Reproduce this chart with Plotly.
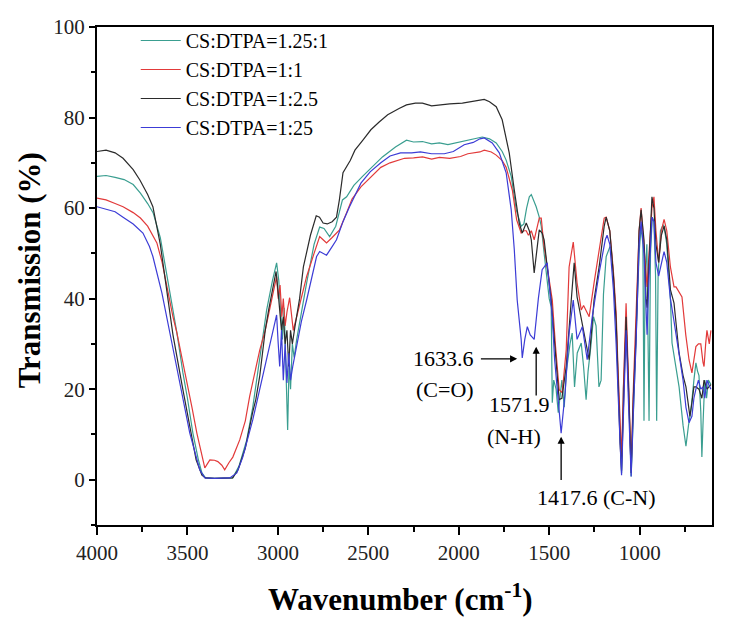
import plotly.graph_objects as go

# ---------------- data ----------------
teal_wn = [4000, 3950, 3900, 3850, 3800, 3760, 3720, 3690, 3650, 3614, 3580, 3558, 3525, 3500, 3470, 3440, 3420, 3400, 3350, 3300, 3250, 3215, 3172, 3139, 3100, 3062, 3030, 3007, 2995, 2985, 2975, 2965, 2955, 2946, 2938, 2930, 2920, 2910, 2896, 2870, 2841, 2800, 2769, 2745, 2714, 2680, 2643, 2620, 2580, 2532, 2480, 2422, 2350, 2289, 2250, 2201, 2150, 2107, 2060, 2013, 1960, 1903, 1870, 1830, 1793, 1760, 1738, 1710, 1682, 1655, 1640, 1625, 1610, 1599, 1585, 1572, 1555, 1544, 1528, 1517, 1500, 1489, 1483, 1475, 1462, 1450, 1440, 1430, 1417, 1405, 1385, 1373, 1360, 1345, 1323, 1310, 1296, 1285, 1270, 1255, 1241, 1225, 1213, 1200, 1185, 1165, 1158, 1145, 1130, 1120, 1108, 1100, 1090, 1080, 1072, 1060, 1047, 1035, 1020, 1003, 992, 982, 976, 970, 960, 948, 940, 930, 921, 912, 906, 898, 885, 870, 865, 850, 830, 821, 800, 782, 760, 744, 730, 716, 700, 689, 680, 672, 662, 656, 650, 640, 630, 620, 606]
teal_t = [67.0, 67.2, 66.8, 66.3, 65.2, 63.3, 61.0, 59.0, 53.5, 45.0, 37.0, 32.4, 23.6, 18.0, 10.3, 4.5, 1.5, 0.4, 0.3, 0.3, 0.4, 3.0, 8.8, 16.0, 26.5, 37.5, 44.0, 47.9, 44.0, 36.0, 31.0, 38.0, 22.0, 11.0, 26.0, 20.0, 30.0, 27.0, 31.0, 37.0, 43.5, 52.0, 55.8, 55.5, 53.7, 56.0, 61.8, 62.5, 65.0, 67.0, 69.0, 71.3, 73.5, 75.0, 74.6, 74.7, 74.2, 74.4, 74.0, 74.4, 75.0, 75.5, 75.7, 75.3, 74.4, 72.5, 70.6, 67.0, 59.6, 56.0, 56.5, 60.0, 62.5, 63.0, 61.5, 60.3, 58.0, 56.0, 50.0, 45.7, 40.0, 38.2, 17.0, 22.0, 20.0, 14.8, 18.0, 22.0, 16.0, 24.0, 30.0, 32.4, 20.5, 28.0, 30.2, 25.0, 17.7, 24.0, 29.4, 36.0, 34.0, 20.5, 22.0, 41.0, 49.3, 51.4, 51.4, 45.0, 35.0, 25.0, 12.0, 1.5, 20.0, 30.0, 32.0, 20.0, 0.7, 15.0, 29.0, 50.0, 56.0, 52.0, 13.0, 45.0, 52.0, 13.0, 50.0, 58.0, 57.0, 45.0, 13.0, 45.0, 55.0, 56.3, 56.0, 52.0, 40.0, 30.2, 25.0, 20.5, 12.0, 7.4, 12.0, 15.6, 22.0, 25.8, 24.0, 23.0, 15.0, 5.0, 12.0, 22.0, 18.0, 22.0, 21.0]

red_wn = [4000, 3950, 3900, 3856, 3800, 3760, 3720, 3669, 3640, 3614, 3580, 3558, 3530, 3503, 3475, 3448, 3425, 3404, 3390, 3376, 3350, 3332, 3310, 3294, 3270, 3249, 3211, 3180, 3156, 3130, 3100, 3070, 3045, 3020, 3007, 2998, 2988, 2978, 2970, 2960, 2950, 2935, 2925, 2915, 2896, 2870, 2841, 2800, 2769, 2750, 2731, 2700, 2659, 2620, 2590, 2541, 2480, 2431, 2380, 2300, 2250, 2200, 2150, 2107, 2050, 1990, 1950, 1883, 1859, 1820, 1793, 1760, 1738, 1704, 1680, 1655, 1640, 1627, 1615, 1599, 1583, 1570, 1555, 1544, 1530, 1511, 1483, 1465, 1445, 1428, 1406, 1390, 1367, 1346, 1323, 1310, 1296, 1279, 1252, 1224, 1196, 1185, 1165, 1145, 1130, 1120, 1108, 1100, 1090, 1075, 1060, 1047, 1035, 1020, 1003, 992, 976, 965, 959, 948, 932, 921, 910, 895, 880, 865, 850, 830, 810, 799, 782, 766, 745, 727, 711, 700, 689, 675, 662, 650, 644, 635, 628, 615, 606]
red_t = [62.2, 61.8, 61.0, 60.3, 59.0, 57.8, 56.0, 52.3, 48.0, 42.7, 36.0, 32.4, 27.0, 22.0, 16.0, 10.3, 6.0, 2.6, 3.5, 4.4, 4.3, 4.0, 3.2, 2.2, 3.8, 5.0, 8.8, 13.0, 18.4, 23.5, 28.7, 33.0, 37.5, 42.0, 44.9, 40.0, 43.0, 36.0, 40.0, 34.0, 37.0, 40.2, 36.0, 33.0, 36.0, 40.0, 44.9, 50.0, 53.7, 53.0, 52.3, 53.5, 55.2, 59.0, 62.0, 64.7, 67.0, 69.0, 70.0, 71.0, 71.1, 71.3, 70.8, 71.2, 71.0, 71.4, 72.0, 72.4, 72.8, 72.4, 71.7, 70.5, 69.0, 64.0, 57.4, 54.5, 55.0, 55.0, 54.0, 55.0, 53.0, 55.0, 57.8, 57.8, 52.0, 47.0, 39.7, 29.4, 19.9, 19.2, 28.7, 47.0, 52.5, 43.5, 37.5, 38.5, 37.5, 36.0, 43.5, 50.8, 57.8, 58.0, 55.0, 46.0, 37.0, 25.0, 11.0, 5.0, 20.0, 39.0, 20.0, 3.0, 20.0, 35.0, 55.0, 60.0, 52.0, 45.0, 42.6, 50.0, 60.0, 62.5, 55.0, 48.0, 55.0, 57.5, 55.0, 47.0, 42.6, 42.6, 41.5, 40.4, 32.0, 26.5, 23.6, 27.0, 29.4, 30.0, 30.0, 26.0, 25.0, 30.0, 33.0, 30.0, 33.0]

black_wn = [4000, 3950, 3900, 3856, 3800, 3763, 3720, 3691, 3650, 3616, 3580, 3528, 3490, 3452, 3420, 3400, 3350, 3300, 3250, 3220, 3180, 3139, 3122, 3100, 3070, 3051, 3030, 3010, 3000, 2990, 2980, 2970, 2960, 2950, 2940, 2930, 2920, 2905, 2880, 2859, 2820, 2788, 2770, 2750, 2727, 2700, 2676, 2660, 2640, 2600, 2574, 2530, 2486, 2440, 2393, 2330, 2289, 2240, 2201, 2150, 2107, 2050, 1980, 1930, 1870, 1859, 1830, 1793, 1760, 1721, 1693, 1666, 1649, 1627, 1610, 1599, 1583, 1570, 1555, 1539, 1528, 1511, 1489, 1470, 1445, 1430, 1406, 1378, 1362, 1346, 1306, 1279, 1252, 1224, 1196, 1185, 1165, 1145, 1130, 1120, 1108, 1100, 1090, 1075, 1060, 1047, 1035, 1020, 1003, 992, 976, 965, 959, 948, 932, 921, 910, 895, 880, 865, 850, 830, 810, 782, 760, 744, 722, 711, 700, 689, 672, 656, 644, 628, 606]
black_t = [72.5, 72.8, 72.2, 71.0, 68.5, 66.2, 63.0, 60.3, 52.0, 42.0, 32.0, 20.5, 12.0, 4.4, 1.0, 0.4, 0.3, 0.3, 0.4, 2.2, 7.0, 15.0, 17.7, 23.0, 33.0, 37.5, 42.0, 46.0, 42.0, 38.0, 33.0, 36.0, 30.0, 33.0, 25.0, 33.0, 30.0, 34.0, 40.0, 47.0, 54.0, 58.3, 58.0, 56.7, 56.5, 57.0, 58.0, 61.8, 67.8, 70.5, 72.8, 75.0, 77.3, 79.0, 80.6, 82.0, 82.8, 83.2, 83.2, 82.6, 82.8, 83.0, 83.2, 83.5, 83.9, 84.0, 83.5, 82.4, 79.5, 72.2, 64.0, 56.7, 54.5, 56.7, 55.0, 53.0, 45.7, 50.0, 55.2, 54.5, 53.0, 47.0, 39.7, 30.2, 17.7, 18.0, 25.0, 39.7, 47.9, 40.4, 32.4, 26.5, 39.7, 47.0, 56.0, 58.0, 55.0, 45.0, 35.0, 22.0, 8.0, 2.0, 18.0, 36.0, 18.0, 1.5, 18.0, 32.0, 55.0, 59.6, 53.0, 40.0, 38.0, 48.0, 62.5, 60.0, 52.0, 48.0, 54.0, 56.0, 53.0, 42.0, 39.0, 28.0, 23.0, 20.5, 14.0, 17.0, 20.5, 20.5, 20.0, 18.0, 22.0, 20.0, 21.0]

blue_wn = [4000, 3950, 3900, 3856, 3800, 3746, 3710, 3691, 3641, 3586, 3531, 3487, 3432, 3404, 3350, 3300, 3266, 3227, 3194, 3139, 3084, 3034, 3007, 2998, 2990, 2980, 2970, 2960, 2950, 2940, 2930, 2918, 2896, 2870, 2841, 2810, 2786, 2769, 2750, 2731, 2700, 2676, 2640, 2604, 2541, 2490, 2431, 2380, 2322, 2260, 2212, 2150, 2080, 2030, 1970, 1920, 1883, 1859, 1815, 1776, 1738, 1710, 1693, 1677, 1655, 1649, 1635, 1621, 1605, 1583, 1560, 1539, 1511, 1483, 1470, 1445, 1434, 1412, 1390, 1367, 1346, 1317, 1290, 1262, 1224, 1190, 1180, 1165, 1145, 1130, 1120, 1108, 1100, 1090, 1075, 1060, 1047, 1035, 1020, 1003, 992, 976, 965, 959, 948, 932, 921, 910, 895, 880, 865, 850, 830, 810, 782, 760, 744, 727, 711, 700, 689, 675, 662, 650, 640, 628, 606]
blue_t = [60.3, 59.8, 59.2, 58.0, 56.5, 54.5, 51.5, 49.3, 41.2, 30.2, 19.2, 10.3, 2.2, 0.4, 0.3, 0.3, 0.4, 1.5, 5.0, 13.2, 22.8, 31.6, 36.4, 30.0, 25.0, 33.0, 22.0, 30.0, 21.4, 28.0, 22.0, 25.0, 30.0, 35.0, 39.7, 45.0, 49.3, 50.4, 50.0, 49.6, 51.5, 53.0, 57.0, 60.3, 65.5, 68.0, 70.0, 71.5, 72.2, 72.2, 72.4, 72.0, 72.0, 72.5, 74.0, 74.5, 75.3, 75.5, 74.4, 72.2, 67.8, 59.6, 50.8, 39.7, 31.0, 26.9, 31.0, 33.8, 32.0, 31.0, 40.0, 46.4, 47.9, 36.0, 26.5, 16.0, 10.3, 19.2, 32.4, 39.7, 31.0, 33.8, 26.5, 36.0, 45.7, 53.0, 54.0, 52.0, 42.0, 30.0, 18.0, 8.0, 1.0, 15.0, 33.0, 15.0, 0.7, 15.0, 30.0, 52.0, 57.0, 50.0, 35.0, 32.0, 45.0, 58.0, 57.0, 48.0, 45.0, 48.0, 50.4, 48.0, 40.0, 35.0, 28.0, 22.0, 16.0, 12.6, 14.0, 18.0, 20.0, 22.0, 20.0, 20.5, 18.0, 22.0, 20.0]

series_names = ["CS:DTPA=1.25:1", "CS:DTPA=1:1", "CS:DTPA=1:2.5", "CS:DTPA=1:25"]
series_colors = ["#3a9e90", "#e23a3a", "#2b2b2b", "#3c3cd6"]

x_tick_vals = [4000, 3500, 3000, 2500, 2000, 1500, 1000]
y_tick_vals = [0, 20, 40, 60, 80, 100]

# arrows: (head wavenumber, head %T, tail wavenumber, tail %T)
arrows = [
    (1677, 26.7, 1886, 26.7),
    (1572, 29.4, 1572, 18.3),
    (1434, 9.5, 1434, -0.4),
]
labels = [
    ("1633.6", 1903, 26.7, "right"),
    ("(C=O)", 2245, 19.9, "left"),
    ("1571.9", 1666, 16.6, "center"),
    ("(N-H)", 1693, 9.5, "center"),
    ("1417.6 (C-N)", 1241, -3.9, "center"),
]

# ---------------- figure ----------------
FONT = "Liberation Serif, Times New Roman, serif"
fig = go.Figure()
for wn, t, name, col in zip([teal_wn, red_wn, black_wn, blue_wn],
                            [teal_t, red_t, black_t, blue_t],
                            series_names, series_colors):
    fig.add_trace(go.Scatter(x=wn, y=t, mode="lines", name=name,
                             line=dict(color=col, width=1.2)))

for hx, hy, tx, ty in arrows:
    fig.add_annotation(x=hx, y=hy, ax=tx, ay=ty, xref="x", yref="y",
                       axref="x", ayref="y", text="", showarrow=True,
                       arrowhead=2, arrowsize=1.1, arrowwidth=1.3,
                       arrowcolor="black")
for txt, x, y, anc in labels:
    fig.add_annotation(x=x, y=y, xref="x", yref="y", text=txt,
                       showarrow=False, xanchor=anc, yanchor="middle",
                       font=dict(family=FONT, size=22, color="black"))

# axis titles
fig.add_annotation(x=0.493, y=-0.146, xref="paper", yref="paper",
                   text="<b>Wavenumber (cm<sup>-1</sup>)</b>", showarrow=False,
                   xanchor="center", yanchor="middle",
                   font=dict(family=FONT, size=31, color="black"))
fig.add_annotation(x=-0.11, y=0.512, xref="paper", yref="paper",
                   text="<b>Transmission (%)</b>", showarrow=False, textangle=-90,
                   xanchor="center", yanchor="middle",
                   font=dict(family=FONT, size=31, color="black"))

fig.update_layout(
    width=729, height=626,
    margin=dict(l=97, r=17, t=27, b=101),
    paper_bgcolor="white", plot_bgcolor="white",
    font=dict(family=FONT, color="black"),
    showlegend=True,
    legend=dict(x=0.063, y=1.012, xanchor="left", yanchor="top",
                bgcolor="rgba(0,0,0,0)", font=dict(family=FONT, size=20),
                tracegroupgap=0, itemwidth=40),
)
fig.update_xaxes(range=[4000, 600], showgrid=False, zeroline=False,
                 showline=True, linecolor="black", linewidth=2, mirror=True,
                 ticks="outside", ticklen=8, tickwidth=2, tickcolor="black",
                 tickvals=x_tick_vals,
                 tickfont=dict(family=FONT, size=21, color="#222"),
                 minor=dict(tickvals=[3750, 3250, 2750, 2250, 1750, 1250, 750],
                            ticks="outside", ticklen=5, tickwidth=2,
                            tickcolor="black"))
fig.update_yaxes(range=[-10, 100], showgrid=False, zeroline=False,
                 showline=True, linecolor="black", linewidth=2, mirror=True,
                 ticks="outside", ticklen=6, tickwidth=2, tickcolor="black",
                 tickvals=y_tick_vals,
                 tickfont=dict(family=FONT, size=21, color="#222"),
                 minor=dict(tickvals=[-10, 10, 30, 50, 70, 90],
                            ticks="outside", ticklen=4, tickwidth=2,
                            tickcolor="black"))

fig.write_html("out.html")
